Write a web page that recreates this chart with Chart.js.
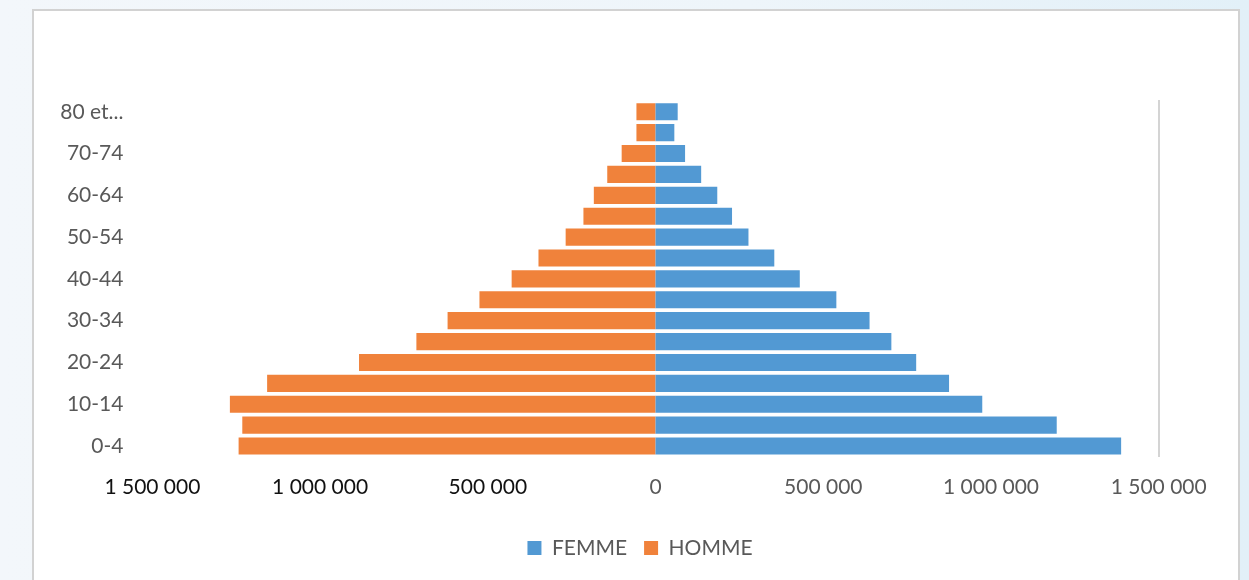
<!DOCTYPE html>
<html>
<head>
<meta charset="utf-8">
<script src="https://cdn.jsdelivr.net/npm/chart.js@4.4.1/dist/chart.umd.min.js"></script>
<style>
  html, body { margin: 0; padding: 0; width: 1249px; height: 580px; overflow: hidden;
    background: linear-gradient(to right, #f3f7fb 0%, #eef5fa 60%, #e2f0f8 100%); }
  #frame { position: absolute; left: 32px; top: 9px; width: 1204px; height: 620px;
    border: 2px solid #d2d2d2; background: #ffffff; }
  #wrap { position: absolute; left: 0; top: 0; width: 1204px; height: 600px; }
</style>
</head>
<body>
<div id="frame"><div id="wrap"><canvas id="c"></canvas></div></div>
<script>
const categories = ['0-4','5-9','10-14','15-19','20-24','25-29','30-34','35-39','40-44','45-49','50-54','55-59','60-64','65-69','70-74','75-79','80 et...'];
const femme = [1388000, 1196000, 974000, 875000, 777000, 703000, 638000, 539000, 430000, 354000, 277000, 228000, 184000, 136000, 88000, 56000, 66000];
const homme = [1243000, 1232000, 1269000, 1158000, 884000, 713000, 620000, 525000, 429000, 349000, 268000, 215000, 184000, 144000, 101000, 57000, 57000];
const xMin = -1500000, xMax = 1500000, xStep = 500000;

function fmt(v) {
  return String(Math.abs(v)).replace(/\B(?=(\d{3})+(?!\d))/g, ' ');
}

new Chart(document.getElementById('c'), {
  type: 'bar',
  data: {
    labels: categories,
    datasets: [
      { label: 'FEMME', data: femme, backgroundColor: '#5299D3', barPercentage: 0.82, categoryPercentage: 1 },
      { label: 'HOMME', data: homme.map(v => -v), backgroundColor: '#F0823B', barPercentage: 0.82, categoryPercentage: 1 }
    ]
  },
  options: {
    indexAxis: 'y',
    responsive: true,
    maintainAspectRatio: false,
    animation: false,
    layout: { padding: { top: 90.3, left: 8, right: 0, bottom: 42.5 } },
    plugins: {
      tooltip: { enabled: false },
      legend: {
        position: 'bottom',
        labels: {
          boxWidth: 14, boxHeight: 14, padding: 17,
          color: '#595959',
          font: { family: 'Lato', size: 21 }
        }
      }
    },
    scales: {
      x: {
        stacked: true,
        min: xMin, max: xMax,
        grid: { display: false, drawTicks: false },
        border: { display: false },
        ticks: {
          stepSize: xStep,
          padding: 18,
          font: { family: 'Lato', size: 21 },
          color: ctx => (ctx.tick && ctx.tick.value < 0) ? '#111111' : '#595959',
          callback: v => fmt(v)
        },
        afterFit: s => { s.height = 64; }
      },
      y: {
        stacked: true,
        reverse: true,
        grid: { display: false, drawTicks: false },
        border: { display: false },
        ticks: {
          autoSkip: false,
          padding: 29,
          font: { family: 'Lato', size: 21 },
          color: '#595959',
          callback: function (v, i) { return i % 2 === 0 ? this.getLabelForValue(v) : ''; }
        },
        afterFit: s => { s.width = 110.4; }
      },
      y2: {
        type: 'category',
        labels: categories,
        position: 'right',
        reverse: true,
        grid: { display: false, drawTicks: false },
        border: { display: true, color: '#d4d4d4', width: 2 },
        ticks: { display: false },
        afterFit: s => { s.width = 79.3; }
      }
    }
  }
});
</script>
</body>
</html>
